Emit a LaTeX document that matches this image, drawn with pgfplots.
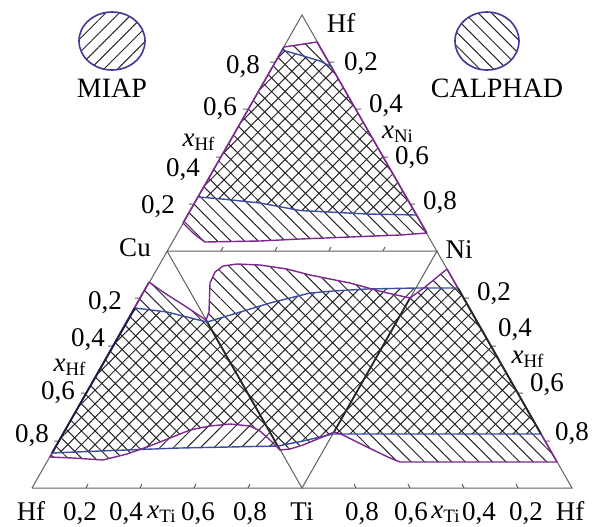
\documentclass[border=0pt]{standalone}
\usepackage{pgfplots}
\pgfplotsset{compat=1.18}
\usepackage{fontspec}
\setmainfont{Liberation Serif}
\usetikzlibrary{patterns.meta}
\definecolor{miap}{RGB}{58,78,160}
\definecolor{calph}{RGB}{125,40,145}
\definecolor{edgec}{RGB}{95,95,95}
\definecolor{circ}{RGB}{70,55,150}
\tikzset{
 ne/.style={draw=none, pattern={Lines[angle=45,distance=4.8pt,line width=0.5pt]}, pattern color=black!85},
 nw/.style={draw=none, pattern={Lines[angle=-45,distance=4.8pt,line width=0.5pt]}, pattern color=black!85},
 lab/.style={font=\fontsize{13.5}{16}\selectfont, inner sep=0pt},
 blab/.style={font=\fontsize{13.5}{16}\selectfont, inner sep=0pt, anchor=base},
}
\begin{document}
\begin{tikzpicture}
\begin{axis}[
 scale only axis, width=302.5pt, height=263pt,
 xmin=0, xmax=605, ymin=0, ymax=526, y dir=reverse,
 hide axis, clip=false, unbounded coords=jump,
]
\addplot[draw=none, forget plot] coordinates {(0,0) (605,526)};
% CALPHAD regions
\addplot[nw] coordinates {(284,47) (317,42) (427,233) (400,235) (350,237) (300,239) (260,241) (205,242) (198,237) (192,232) (183,223)} -- cycle;
\addplot[nw] coordinates {(149,282) (163,292) (185,306) (206,320) (280,450) (270,440) (260,431) (250,426) (230,424) (210,426) (190,430) (175,436) (160,442) (147,447) (127,454) (103,460) (73,458) (50,457)} -- cycle;
\addplot[nw] coordinates {(206,320) (209,312) (210,283) (215,272) (223,266) (237,264) (260,265) (287,269) (310,275) (320,277) (350,283) (383,292) (410,298) (334,432) (320,438) (303,445) (290,449) (280,450)} -- cycle;
\addplot[nw] coordinates {(410,298) (425,287) (447,269) (557,462) (400,462) (390,458) (367,447) (343,435) (334,432)} -- cycle;
% MIAP regions
\addplot[ne] coordinates {(282,50) (300,55) (320,61) (332,67) (416,215) (367,214) (300,210.5) (260,203) (227,199.5) (199,197)} -- cycle;
\addplot[ne] coordinates {(135,308) (167,312) (207,322) (278,446) (180,448) (100,451) (52,453)} -- cycle;
\addplot[ne] coordinates {(207,322) (237,313) (270,303) (310,293) (333,291) (367,289) (416,288) (333,434) (303,441) (278,446)} -- cycle;
\addplot[ne] coordinates {(416,288) (458,288) (541,434) (333,434)} -- cycle;
% triangle edges
\addplot[edgec, line width=0.5pt] coordinates {(32,488) (302,15) (572,488) (32,488)};
\addplot[edgec, line width=0.5pt] coordinates {(167,251) (437,251) (302,488) (167,251)};
% ticks
\addplot[edgec, line width=0.5pt] coordinates {
 (221,251) (223,247) (nan,nan) (275,251) (277,247) (nan,nan) (329,251) (331,247) (nan,nan) (383,251) (385,247) (nan,nan)
 (86,488) (88,484) (nan,nan) (140,488) (142,484) (nan,nan) (194,488) (196,484) (nan,nan) (248,488) (250,484) (nan,nan)
 (356,488) (354,484) (nan,nan) (410,488) (408,484) (nan,nan) (464,488) (462,484) (nan,nan) (518,488) (516,484) (nan,nan)
 (140,298) (135,298) (nan,nan) (113,346) (108,346) (nan,nan) (86,393) (81,393) (nan,nan) (59,441) (54,441) (nan,nan)
 (194,204) (189,204) (nan,nan) (221,157) (216,157) (nan,nan) (248,109) (243,109) (nan,nan) (275,62) (270,62) (nan,nan)
 (329,62) (334,62) (nan,nan) (356,109) (361,109) (nan,nan) (383,157) (388,157) (nan,nan) (410,204) (415,204) (nan,nan)
 (464,298) (469,298) (nan,nan) (491,346) (496,346) (nan,nan) (518,393) (523,393) (nan,nan) (545,441) (550,441)
};
% region edges along triangle sides
\addplot[calph, line width=0.8pt] coordinates {(284,47) (183,223)};
\addplot[calph, line width=0.8pt] coordinates {(317,42) (427,233)};
\addplot[calph, line width=0.8pt] coordinates {(149,282) (50,457)};
\addplot[calph, line width=0.8pt] coordinates {(447,269) (557,462)};
\addplot[black!60!miap, line width=0.9pt] coordinates {(135,308) (52,453)};
\addplot[black!85, line width=0.9pt] coordinates {(458,288) (541,434)};
\addplot[black!85, line width=0.9pt] coordinates {(206,320) (280,450)};
\addplot[black!85, line width=0.9pt] coordinates {(410,298) (334,432)};
% MIAP boundaries
\addplot[miap, line width=0.7pt] coordinates {(282,50) (300,55) (320,61) (332,67)};
\addplot[miap, line width=0.7pt] coordinates {(416,215) (367,214) (300,210.5) (260,203) (227,199.5) (199,197)};
\addplot[miap, line width=0.7pt] coordinates {(135,308) (167,312) (207,322) (237,313) (270,303) (310,293) (333,291) (367,289) (416,288) (458,288)};
\addplot[miap, line width=0.7pt] coordinates {(52,453) (100,451) (180,448) (278,446) (303,441) (333,434) (541,434)};
% CALPHAD boundaries
\addplot[calph, line width=0.7pt] coordinates {(284,47) (317,42)};
\addplot[calph, line width=0.7pt] coordinates {(183,223) (192,232) (198,237) (205,242) (260,241) (300,239) (350,237) (400,235) (427,233)};
\addplot[calph, line width=0.7pt] coordinates {(149,282) (163,292) (185,306) (206,320) (209,312) (210,283) (215,272) (223,266) (237,264) (260,265) (287,269) (310,275) (320,277) (350,283) (383,292) (410,298) (425,287) (447,269)};
\addplot[calph, line width=0.7pt] coordinates {(50,457) (73,458) (103,460) (127,454) (147,447) (160,442) (175,436) (190,430) (210,426) (230,424) (250,426) (260,431) (270,440) (280,450) (290,449) (303,445) (320,438) (334,432) (343,435) (367,447) (390,458) (400,462) (557,462)};
% legend symbols
\draw[circ, line width=0.8pt, pattern={Lines[angle=45,distance=4.8pt,line width=0.5pt]}, pattern color=black!85] (112,41) ellipse [x radius=33, y radius=29];
\draw[circ, line width=0.8pt, pattern={Lines[angle=-45,distance=4.8pt,line width=0.5pt]}, pattern color=black!85] (487,41) ellipse [x radius=32, y radius=29];
% labels
\node[lab, font=\fontsize{14}{16}\selectfont] at (112,88) {MIAP};
\node[lab, font=\fontsize{14}{16}\selectfont] at (497,88) {CALPHAD};
\node[lab] at (341,23) {Hf};
\node[lab] at (135,248) {Cu};
\node[lab] at (459,250) {Ni};
\node[lab] at (243,67) {0,8};
\node[lab] at (220,109) {0,6};
\node[lab] at (199,142) {\textit{x}\textsubscript{Hf}};
\node[lab] at (183,170) {0,4};
\node[lab] at (158,207) {0,2};
\node[lab] at (361,64) {0,2};
\node[lab] at (386,106) {0,4};
\node[lab] at (398,134) {\textit{x}\textsubscript{Ni}};
\node[lab] at (412,158) {0,6};
\node[lab] at (440,203) {0,8};
\node[lab] at (105,303) {0,2};
\node[lab] at (88,340) {0,4};
\node[lab] at (70,367) {\textit{x}\textsubscript{Hf}};
\node[lab] at (58,393) {0,6};
\node[lab] at (32,436) {0,8};
\node[lab] at (494,294) {0,2};
\node[lab] at (515,330) {0,4};
\node[lab] at (528,359) {\textit{x}\textsubscript{Hf}};
\node[lab] at (547,385) {0,6};
\node[lab] at (572,434) {0,8};
\node[blab] at (31,520) {Hf};
\node[blab] at (80,520) {0,2};
\node[blab] at (126,520) {0,4};
\node[blab] at (162,518) {\textit{x}\textsubscript{Ti}};
\node[blab] at (198,520) {0,6};
\node[blab] at (250,520) {0,8};
\node[blab] at (302,520) {Ti};
\node[blab] at (362,520) {0,8};
\node[blab] at (411,520) {0,6};
\node[blab] at (446,518) {\textit{x}\textsubscript{Ti}};
\node[blab] at (479,520) {0,4};
\node[blab] at (526,520) {0,2};
\node[blab] at (570,520) {Hf};
\end{axis}
\end{tikzpicture}
\end{document}
